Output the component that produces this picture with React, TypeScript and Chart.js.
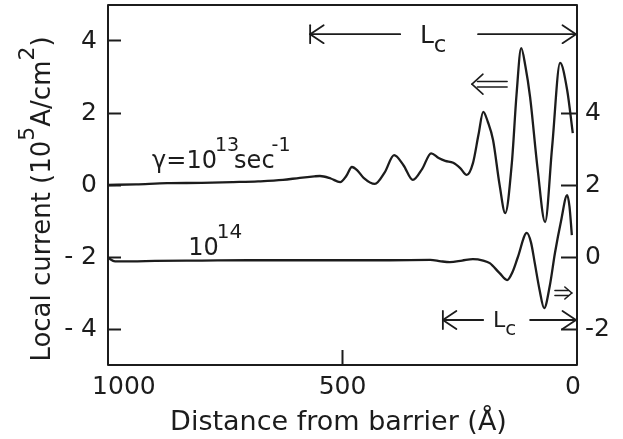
import React, { useEffect, useRef } from 'react';
import { Chart, registerables } from 'chart.js';

Chart.register(...registerables);

// ---- data (distance from barrier in Å, local current in 10^5 A/cm^2) ----
const gamma13Distance = [1000, 940, 874, 800, 733, 680, 627, 591, 560, 548, 525, 505, 492, 480, 468, 455, 431, 410, 390, 370, 350, 330, 311, 295, 281, 264, 249, 235, 222, 210, 200, 190, 179, 165, 153, 139, 129, 119, 110, 100, 84, 68, 53, 36, 21, 9];
const gamma13Current = [0.0, 0.02, 0.05, 0.06, 0.08, 0.1, 0.14, 0.2, 0.24, 0.25, 0.18, 0.08, 0.25, 0.5, 0.4, 0.2, 0.03, 0.35, 0.83, 0.55, 0.14, 0.45, 0.88, 0.75, 0.67, 0.62, 0.47, 0.28, 0.6, 1.4, 2.03, 1.75, 1.25, 0.0, -0.78, 0.6, 2.5, 3.8, 3.3, 2.44, 0.45, -1.03, 1.06, 3.39, 2.64, 1.44];

const gamma14Distance = [1000, 985, 950, 900, 800, 700, 600, 500, 400, 313, 290, 271, 245, 222, 200, 186, 165, 149, 137, 126, 107, 98, 90, 80, 70, 58, 47, 34, 21, 16, 11];
const gamma14Current = [-2.02, -2.12, -2.12, -2.11, -2.1, -2.09, -2.09, -2.09, -2.09, -2.08, -2.12, -2.14, -2.1, -2.06, -2.1, -2.17, -2.45, -2.64, -2.4, -2.0, -1.33, -1.6, -2.17, -2.9, -3.42, -2.8, -1.89, -1.0, -0.28, -0.6, -1.39];

const xTickValues = [1000, 500, 0];
const leftTickValues = [-4, -2, 0, 2, 4];
const rightTickValues = [-2, 0, 2, 4];
const RIGHT_AXIS_SHIFT = 2;

const INK = '#1c1c1c';
const FAMILY = '"DejaVu Sans", sans-serif';

type Seg = { t: string; s?: 'sup' | 'sub'; dx?: number };

function drawRich(ctx: CanvasRenderingContext2D, segs: Seg[], x: number, y: number, size: number, align: 'left' | 'center', smallRatio = 0.88, supRaise = 0.72) {
  const base = `${size}px ${FAMILY}`;
  const small = `${Math.round(size * smallRatio)}px ${FAMILY}`;
  const widths = segs.map((seg) => {
    ctx.font = seg.s ? small : base;
    return ctx.measureText(seg.t).width + (seg.dx || 0);
  });
  const total = widths.reduce((a, b) => a + b, 0);
  let cx = align === 'center' ? x - total / 2 : x;
  ctx.textAlign = 'left';
  ctx.textBaseline = 'alphabetic';
  segs.forEach((seg, i) => {
    ctx.font = seg.s ? small : base;
    const dy = seg.s === 'sup' ? -size * supRaise : seg.s === 'sub' ? size * 0.36 : 0;
    cx += seg.dx || 0;
    ctx.fillText(seg.t, cx, y + dy);
    cx += widths[i] - (seg.dx || 0);
  });
}

const annotationPlugin = {
  id: 'annotations',
  afterDraw(chart: any) {
    const ctx: CanvasRenderingContext2D = chart.ctx;
    const xs = chart.scales.x;
    const ys = chart.scales.y;
    const X = (d: number) => xs.getPixelForValue(d);
    const Y = (v: number) => ys.getPixelForValue(v);
    const area = chart.chartArea;
    ctx.save();
    ctx.strokeStyle = INK;
    ctx.fillStyle = INK;
    ctx.lineCap = 'round';
    ctx.lineJoin = 'round';

    // frame
    ctx.lineWidth = 2;
    ctx.strokeRect(area.left, area.top, area.right - area.left, area.bottom - area.top);

    const line = (x1: number, y1: number, x2: number, y2: number) => {
      ctx.beginPath();
      ctx.moveTo(x1, y1);
      ctx.lineTo(x2, y2);
      ctx.stroke();
    };

    // L_c dimension arrows
    const lc = (yv: number, dLeft: number, dLineEnd: number, dLabel: number, dLineStart: number, dRight: number, labelBase: number, size: number, head: number) => {
      const yy = Y(yv);
      const xl = X(dLeft);
      const xr = X(dRight) - 1;
      ctx.lineWidth = 1.8;
      line(xl, yy - head, xl, yy + head);
      line(xl, yy, xl + head * 1.5, yy - head);
      line(xl, yy, xl + head * 1.5, yy + head);
      line(xl, yy, X(dLineEnd), yy);
      line(X(dLineStart), yy, xr, yy);
      line(xr, yy, xr - head * 1.5, yy - head);
      line(xr, yy, xr - head * 1.5, yy + head);
      drawRich(ctx, [{ t: 'L' }, { t: 'c', s: 'sub' }], X(dLabel), Y(labelBase), size, 'left', 0.9);
    };
    lc(4.19, 569, 377, 335, 211, 0, 3.94, 25, 9);
    lc(-3.75, 286, 200, 179, 100, 0, -3.94, 22, 9);

    // double arrows
    const dbl = (dTip: number, dTail: number, yv: number, gap: number, hx: number, hy: number) => {
      const yy = Y(yv);
      const xt = X(dTip);
      const xe = X(dTail);
      const dir = Math.sign(xe - xt);
      ctx.lineWidth = 1.6;
      line(xt + dir * hx * 0.5, yy - gap / 2, xe, yy - gap / 2);
      line(xt + dir * hx * 0.5, yy + gap / 2, xe, yy + gap / 2);
      line(xt, yy, xt + dir * hx, yy - hy);
      line(xt, yy, xt + dir * hx, yy + hy);
    };
    dbl(224, 149, 2.8, 5.5, 11, 10);
    dbl(11, 47, -3.0, 5, 7, 6);

    // curve labels
    drawRich(ctx, [{ t: 'γ=10' }, { t: '13', s: 'sup', dx: -2 }, { t: 'sec', dx: -5 }, { t: '-1', s: 'sup', dx: -3 }], X(906), Y(0.47), 24, 'left', 0.8);
    drawRich(ctx, [{ t: '10' }, { t: '14', s: 'sup', dx: -2 }], X(829), Y(-1.94), 24, 'left', 0.82);

    // axis titles
    drawRich(ctx, [{ t: 'Distance from barrier (Å)' }], (area.left + area.right) / 2 - 4, 430, 27, 'center');
    ctx.save();
    ctx.translate(50, 199);
    ctx.rotate(-Math.PI / 2);
    drawRich(ctx, [{ t: 'Local current (10' }, { t: '5', s: 'sup' }, { t: 'A/cm' }, { t: '2', s: 'sup' }, { t: ')' }], 0, 0, 26, 'center', 0.85, 0.62);
    ctx.restore();

    ctx.restore();
  },
};

export default function App() {
  const ref = useRef<HTMLCanvasElement | null>(null);

  useEffect(() => {
    if (!ref.current) return;
    const toPoints = (xs: number[], ys: number[]) => xs.map((x, i) => ({ x, y: ys[i] }));
    const chart = new Chart(ref.current, {
      type: 'line',
      data: {
        datasets: [
          {
            label: 'γ=10^13 sec^-1',
            data: toPoints(gamma13Distance, gamma13Current),
            borderColor: INK,
            borderWidth: 2.3,
            pointRadius: 0,
            cubicInterpolationMode: 'monotone',
            fill: false,
            yAxisID: 'y',
          },
          {
            label: '10^14',
            data: toPoints(gamma14Distance, gamma14Current),
            borderColor: INK,
            borderWidth: 2.3,
            pointRadius: 0,
            cubicInterpolationMode: 'monotone',
            fill: false,
            yAxisID: 'y',
          },
        ],
      },
      options: {
        animation: false,
        responsive: true,
        maintainAspectRatio: false,
        layout: { padding: { top: 5, left: 0, right: 0, bottom: 0 } },
        plugins: {
          legend: { display: false },
          tooltip: { enabled: false },
          title: { display: false },
        },
        scales: {
          x: {
            type: 'linear',
            reverse: true,
            min: 0,
            max: 1000,
            position: 'bottom',
            afterBuildTicks: (s: any) => {
              s.ticks = xTickValues.map((value) => ({ value }));
            },
            afterFit: (s: any) => {
              s.height = 74;
              s.paddingLeft = 0;
              s.paddingRight = 0;
              s.paddingTop = 0;
              s.paddingBottom = 0;
            },
            border: { display: false },
            grid: {
              drawOnChartArea: false,
              drawTicks: true,
              tickLength: -15,
              tickWidth: 2,
              tickColor: (c: any) => (c.tick && c.tick.value === 500 ? INK : 'rgba(0,0,0,0)'),
            },
            ticks: {
              padding: 22,
              autoSkip: false,
              maxRotation: 0,
              color: INK,
              font: { family: FAMILY, size: 25 },
              callback: (v: any) => (v === 1000 ? '    1000' : v === 0 ? '0 ' : String(v)),
            },
          },
          y: {
            type: 'linear',
            min: -5,
            max: 5,
            position: 'left',
            afterBuildTicks: (s: any) => {
              s.ticks = leftTickValues.map((value) => ({ value }));
            },
            afterFit: (s: any) => {
              s.width = 108;
              s.paddingTop = 0;
              s.paddingBottom = 0;
              s.paddingLeft = 0;
              s.paddingRight = 0;
            },
            border: { display: false },
            grid: { drawOnChartArea: false, drawTicks: true, tickLength: -13, tickWidth: 2, tickColor: INK },
            ticks: {
              padding: 24,
              color: INK,
              font: { family: FAMILY, size: 25 },
              callback: (v: any) => (v < 0 ? '- ' + Math.abs(v) : String(v)),
            },
          },
          y2: {
            type: 'linear',
            min: -5 + RIGHT_AXIS_SHIFT,
            max: 5 + RIGHT_AXIS_SHIFT,
            position: 'right',
            afterBuildTicks: (s: any) => {
              s.ticks = rightTickValues.map((value) => ({ value }));
            },
            afterFit: (s: any) => {
              s.width = 46;
              s.paddingTop = 0;
              s.paddingBottom = 0;
              s.paddingLeft = 0;
              s.paddingRight = 0;
            },
            border: { display: false },
            grid: { drawOnChartArea: false, drawTicks: true, tickLength: -16, tickWidth: 2, tickColor: INK },
            ticks: {
              padding: 24,
              color: INK,
              font: { family: FAMILY, size: 25 },
              callback: (v: any) => String(v),
            },
          },
        },
      } as any,
      plugins: [annotationPlugin],
    });
    return () => chart.destroy();
  }, []);

  return (
    <div style={{ position: 'fixed', left: 0, top: 0, width: 623, height: 439, background: '#fff' }}>
      <canvas ref={ref} />
    </div>
  );
}
